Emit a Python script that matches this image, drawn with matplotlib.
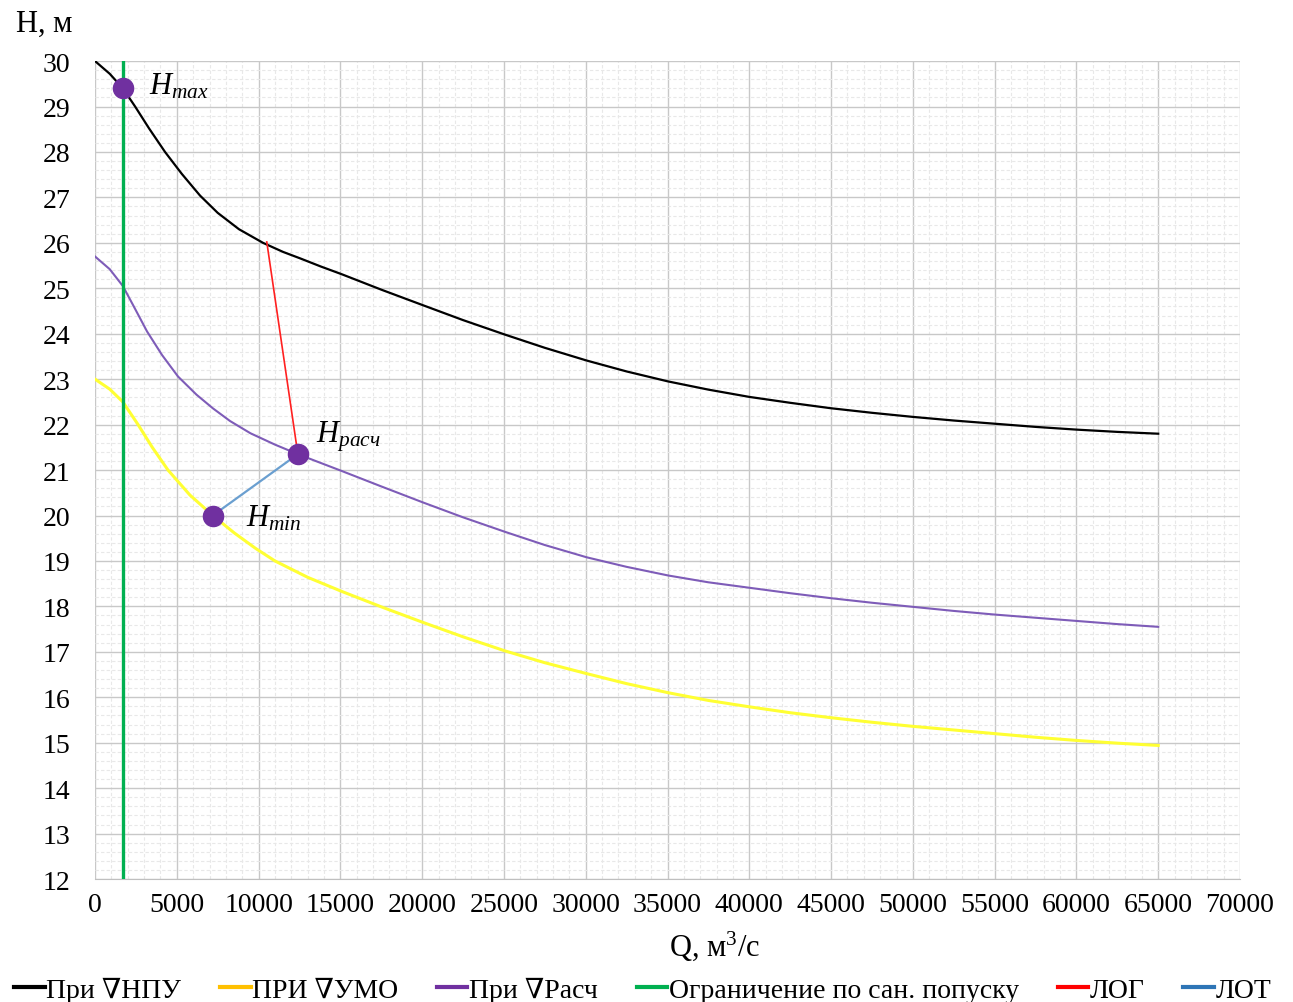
import matplotlib.pyplot as plt
from matplotlib.lines import Line2D
from matplotlib.ticker import MultipleLocator

plt.rcParams['font.family'] = ['Liberation Serif', 'DejaVu Serif']
plt.rcParams['mathtext.fontset'] = 'custom'
plt.rcParams['mathtext.rm'] = 'Liberation Serif'
plt.rcParams['mathtext.it'] = 'Liberation Serif:italic'

# Data
q_npu = [0, 900, 1700, 2450, 3300, 4280, 5300, 6420, 7500, 8800, 10270, 11500, 12530,
         13800, 15080, 17500, 20030, 22500, 25070, 27500, 30060, 32500, 35040, 37500,
         40000, 42500, 45000, 47500, 50000, 52500, 55000, 57500, 60000, 62500, 65000]
h_npu = [30.0, 29.72, 29.4, 29.0, 28.52, 28.0, 27.52, 27.04, 26.66, 26.3, 26.0, 25.8, 25.66,
         25.48, 25.31, 24.97, 24.63, 24.3, 23.98, 23.69, 23.41, 23.17, 22.95, 22.77,
         22.61, 22.48, 22.36, 22.26, 22.17, 22.09, 22.02, 21.95, 21.89, 21.84, 21.8]

q_umo = [0, 900, 1700, 2630, 3500, 4460, 5800, 7200, 8500, 9800, 11000, 13000, 15080,
         17500, 20030, 22500, 25070, 27500, 30060, 32500, 35040, 37500, 40000, 42500,
         45000, 47500, 50000, 52500, 55000, 57500, 60000, 62500, 65000]
h_umo = [23.0, 22.78, 22.5, 22.0, 21.5, 21.0, 20.45, 20.0, 19.62, 19.28, 19.0, 18.64, 18.33,
         17.99, 17.65, 17.33, 17.02, 16.76, 16.52, 16.3, 16.1, 15.93, 15.79, 15.66,
         15.55, 15.45, 15.36, 15.28, 15.2, 15.12, 15.05, 14.99, 14.94]

q_rasch = [0, 900, 1700, 2400, 3180, 4100, 5070, 6200, 7200, 8250, 9500, 11000, 12400,
           13700, 15080, 17500, 20030, 22500, 25070, 27500, 30060, 32500, 35040, 37500,
           40000, 42500, 45000, 47500, 50000, 52500, 55000, 57500, 60000, 62500, 65000]
h_rasch = [25.7, 25.42, 25.05, 24.58, 24.05, 23.53, 23.06, 22.66, 22.36, 22.08, 21.81, 21.56, 21.35,
           21.17, 20.98, 20.64, 20.29, 19.96, 19.64, 19.35, 19.08, 18.87, 18.68, 18.53,
           18.41, 18.29, 18.18, 18.08, 17.99, 17.9, 17.82, 17.75, 17.68, 17.61, 17.55]

q_san = [1700, 1700]
h_san = [12, 30]

q_log = [10500, 12400]
h_log = [26.02, 21.35]

q_lot = [7200, 12400]
h_lot = [20.0, 21.35]

pts_q = [1700, 12400, 7200]
pts_h = [29.4, 21.35, 20.0]
pts_lbl = [r'$H_{max}$', r'$H_{расч}$', r'$H_{min}$']

series_names = ['При ∇НПУ', 'ПРИ ∇УМО', 'При ∇Расч', 'Ограничение по сан. попуску', 'ЛОГ', 'ЛОТ']
legend_colors = ['#000000', '#FFC000', '#7030A0', '#00B050', '#FF0000', '#2E75B6']

fig = plt.figure(figsize=(12.93, 10.03), dpi=100)
ax = fig.add_axes([0.0735, 0.1226, 0.8855, 0.8155])

ax.plot(q_npu, h_npu, color='black', lw=1.6, zorder=3)
ax.plot(q_umo, h_umo, color='#FFFF33', lw=2.2, zorder=3)
ax.plot(q_rasch, h_rasch, color='#7E5CB8', lw=1.5, zorder=3)
ax.plot(q_san, h_san, color='#00B050', lw=2.4, zorder=3)
ax.plot(q_log, h_log, color='#FF2020', lw=1.2, zorder=3)
ax.plot(q_lot, h_lot, color='#6A9FD0', lw=1.6, zorder=3)

ax.scatter(pts_q, pts_h, s=210, color='#7030A0', zorder=5)
offsets = [(1600, 0.05), (1100, 0.4), (2000, -0.05)]
for q, h, t, (dx, dy) in zip(pts_q, pts_h, pts_lbl, offsets):
    ax.text(q + dx, h + dy, t, fontsize=22, va='center', ha='left')

ax.set_xlim(0, 70000)
ax.set_ylim(12, 30)
ax.xaxis.set_major_locator(MultipleLocator(5000))
ax.xaxis.set_minor_locator(MultipleLocator(1000))
ax.yaxis.set_major_locator(MultipleLocator(1))
ax.yaxis.set_minor_locator(MultipleLocator(0.2))
ax.grid(which='major', color='#C8C8C8', lw=1.0)
ax.grid(which='minor', color='#E8E8E8', lw=0.8, ls=(0, (3, 2)))
ax.tick_params(which='both', length=0, labelsize=20)
ax.tick_params(axis='x', pad=9)
ax.tick_params(axis='y', pad=18)
for s in ax.spines.values():
    s.set_visible(False)
ax.spines['bottom'].set_visible(True)
ax.spines['bottom'].set_color('#BFBFBF')
ax.set_axisbelow(True)

fig.text(0.012, 0.976, 'H, м', fontsize=22, va='center', ha='left')
fig.text(0.553, 0.057, 'Q, м$^3$/с', fontsize=22, va='center', ha='center')

handles = [Line2D([], [], color=c, lw=3) for c in legend_colors]
fig.legend(handles, series_names, loc='center', bbox_to_anchor=(0.497, 0.012), ncol=6,
           frameon=False, fontsize=20, handlelength=1.1, handletextpad=0.05,
           columnspacing=1.4, borderaxespad=0)

fig.savefig('out.png', dpi=100)
